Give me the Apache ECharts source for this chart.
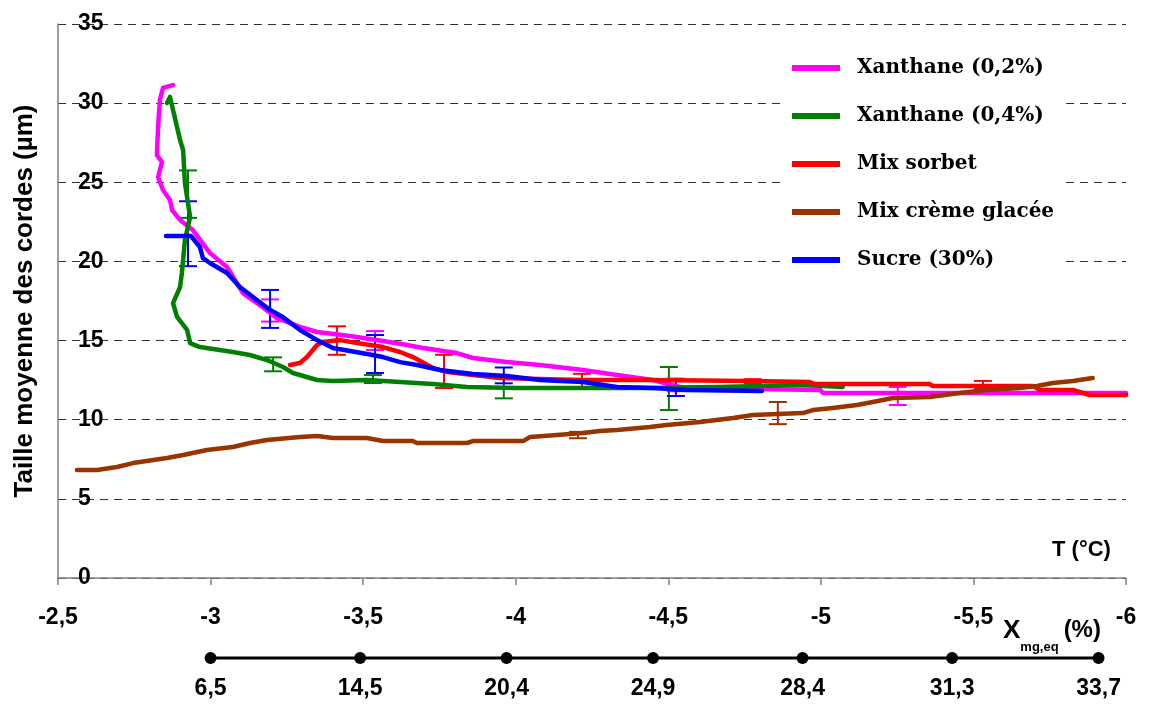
<!DOCTYPE html>
<html><head><meta charset="utf-8">
<script src="https://cdn.jsdelivr.net/npm/echarts@6/dist/echarts.min.js"></script>
<style>html,body{margin:0;padding:0;background:#fff}#c{width:1150px;height:706px}</style>
</head><body><div id="c"></div>
<script>
// ---- data ----
const seriesNames = ['Xanthane (0,2%)', 'Xanthane (0,4%)', 'Mix sorbet', 'Mix crème glacée', 'Sucre (30%)'];
const xTickLabels = ['-2,5','-3','-3,5','-4','-4,5','-5','-5,5','-6'];
const yTickLabels = ['0','5','10','15','20','25','30','35'];

const xanthane02 = [[-2.877,31.14],[-2.844,30.96],[-2.834,30.20],[-2.828,28.49],[-2.824,26.72],[-2.841,26.28],[-2.828,25.33],[-2.844,24.51],[-2.867,23.88],[-2.874,23.25],[-2.900,22.62],[-2.942,21.98],[-2.998,20.53],[-3.054,19.65],[-3.106,18.00],[-3.152,17.37],[-3.218,16.42],[-3.293,15.86],[-3.349,15.54],[-3.457,15.29],[-3.565,14.97],[-3.644,14.72],[-3.696,14.53],[-3.807,14.21],[-3.860,13.90],[-3.971,13.64],[-4.079,13.46],[-4.220,13.14],[-4.332,12.82],[-4.450,12.51],[-4.538,12.07],[-4.777,11.94],[-4.997,11.88],[-5.007,11.69],[-6.0,11.69]];
const xanthane04 = [[-2.857,30.01],[-2.867,30.39],[-2.877,29.56],[-2.900,27.67],[-2.910,27.04],[-2.916,24.95],[-2.933,22.80],[-2.916,21.35],[-2.906,19.27],[-2.900,18.38],[-2.877,17.37],[-2.890,16.49],[-2.923,15.67],[-2.933,14.84],[-2.965,14.59],[-3.073,14.28],[-3.129,14.09],[-3.185,13.77],[-3.237,13.33],[-3.270,12.95],[-3.349,12.51],[-3.401,12.44],[-3.512,12.51],[-3.621,12.38],[-3.729,12.25],[-3.840,12.07],[-4.004,12.00],[-4.440,12.00],[-4.659,12.07],[-4.941,12.19],[-5.072,12.07]];
const mixSorbet = [[-3.260,13.46],[-3.293,13.58],[-3.316,13.96],[-3.349,14.72],[-3.368,14.91],[-3.424,15.03],[-3.480,14.85],[-3.565,14.59],[-3.621,14.28],[-3.663,13.96],[-3.729,13.27],[-3.775,13.01],[-3.860,12.82],[-3.948,12.63],[-4.079,12.57],[-4.220,12.51],[-4.440,12.51],[-4.767,12.44],[-4.964,12.38],[-4.980,12.25],[-5.357,12.25],[-5.367,12.13],[-5.695,12.13],[-5.718,11.88],[-5.826,11.88],[-5.881,11.56],[-6.0,11.56]];
const mixCreme = [[-2.562,6.82],[-2.628,6.82],[-2.693,7.01],[-2.746,7.26],[-2.857,7.58],[-2.910,7.77],[-2.988,8.09],[-3.073,8.28],[-3.129,8.53],[-3.185,8.72],[-3.293,8.91],[-3.349,8.97],[-3.401,8.84],[-3.512,8.84],[-3.565,8.65],[-3.663,8.65],[-3.676,8.53],[-3.840,8.53],[-3.860,8.65],[-4.024,8.65],[-4.047,8.91],[-4.135,9.03],[-4.220,9.16],[-4.276,9.29],[-4.332,9.35],[-4.440,9.54],[-4.495,9.67],[-4.604,9.85],[-4.712,10.11],[-4.777,10.30],[-4.941,10.42],[-4.974,10.61],[-5.039,10.74],[-5.118,10.93],[-5.170,11.12],[-5.236,11.37],[-5.357,11.43],[-5.455,11.69],[-5.544,11.88],[-5.652,12.00],[-5.708,12.13],[-5.760,12.32],[-5.826,12.44],[-5.891,12.63]];
const sucre30 = [[-2.854,21.60],[-2.936,21.60],[-2.965,20.91],[-2.975,20.21],[-2.998,19.90],[-3.054,19.27],[-3.096,18.38],[-3.139,17.75],[-3.195,16.93],[-3.237,16.49],[-3.293,15.67],[-3.349,15.03],[-3.401,14.53],[-3.457,14.34],[-3.513,14.15],[-3.565,13.96],[-3.621,13.64],[-3.677,13.46],[-3.752,13.14],[-3.860,12.89],[-3.971,12.76],[-4.079,12.51],[-4.220,12.38],[-4.332,12.07],[-4.450,12.00],[-4.561,11.88],[-4.807,11.81]];

// error bars: [T, centre, half-width]
const errXanthane02 = [[-3.195,16.9,0.7],[-3.539,15.0,0.6],[-4.525,12.2,0.4],[-5.252,11.5,0.57]];
const errXanthane04 = [[-2.926,24.25,1.5],[-3.205,13.5,0.44],[-3.532,12.57,0.25],[-3.961,12.0,0.65],[-4.502,11.97,1.36]];
const errSorbet = [[-3.414,15.0,0.9],[-3.765,13.05,1.05],[-4.217,12.45,0.45],[-4.777,12.44,0.12],[-5.531,12.2,0.25]];
const errCreme = [[-4.204,9.03,0.2],[-4.859,10.42,0.7]];
const errSucre = [[-2.926,21.75,2.05],[-3.195,17.0,1.2],[-3.539,14.15,1.2],[-3.961,12.8,0.5],[-4.525,11.97,0.47]];

// secondary scale: X_mg,eq (%) vs temperature
const xmgT = [-3.0,-3.49,-3.97,-4.45,-4.94,-5.43,-5.91];
const xmgLabels = ['6,5','14,5','20,4','24,9','28,4','31,3','33,7'];

// ---- chart ----
const colors = ['#FF00FF','#008000','#FF0000','#993300','#0000FF'];
const lineData = [xanthane02, xanthane04, mixSorbet, mixCreme, sucre30];
const errData = [errXanthane02, errXanthane04, errSorbet, errCreme, errSucre];
const drawOrder = [0,1,2,4,3];
const FONT = 'Liberation Sans, Arial, sans-serif';

function errRender(color){
  return function(params, api){
    const x = api.value(0), c = api.value(1), h = api.value(2);
    const t = api.coord([x, c + h]), b = api.coord([x, c - h]);
    const w = 9, st = {stroke: color, lineWidth: 2};
    return {type:'group', children:[
      {type:'line', shape:{x1:t[0],y1:t[1],x2:b[0],y2:b[1]}, style:st},
      {type:'line', shape:{x1:t[0]-w,y1:t[1],x2:t[0]+w,y2:t[1]}, style:st},
      {type:'line', shape:{x1:b[0]-w,y1:b[1],x2:b[0]+w,y2:b[1]}, style:st}
    ]};
  };
}

const series = [];
drawOrder.forEach(i => {
  series.push({
    name: seriesNames[i], type:'line', data: lineData[i], xAxisIndex:0, yAxisIndex:0,
    showSymbol:false, symbol:'none', color: colors[i],
    lineStyle:{color: colors[i], width:4.5, cap:'round', join:'round'},
    animation:false, z: 3
  });
  series.push({
    name: 'err' + i, type:'custom', data: errData[i], xAxisIndex:0, yAxisIndex:0,
    renderItem: errRender(colors[i]), animation:false, z: 3,
    encode:{x:0, y:[1]}
  });
});
series.push({
  name:'xmg', type:'line', xAxisIndex:1, yAxisIndex:1,
  data: xmgT.map(t => [t, 0.5]),
  symbol:'circle', symbolSize:12, color:'#000',
  lineStyle:{color:'#000', width:3},
  itemStyle:{color:'#000'},
  label:{show:true, position:'bottom', distance:13, formatter: p => xmgLabels[p.dataIndex],
    fontFamily:FONT, fontWeight:'bold', fontSize:23, color:'#000'},
  animation:false
});

const chart = echarts.init(document.getElementById('c'), null, {renderer:'canvas'});
chart.setOption({
  backgroundColor:'#fff',
  animation:false,
  title:[
    {text:'T (°C)', left:1047, top:534, textStyle:{fontFamily:FONT, fontWeight:'bold', fontSize:22, color:'#000'}},
    {text:'{x|X}{s|mg,eq} {p|(%)}', left:998, top:613,
      textStyle:{rich:{
        x:{fontFamily:FONT, fontWeight:'bold', fontSize:26, color:'#000', lineHeight:36, verticalAlign:'top'},
        s:{fontFamily:FONT, fontWeight:'bold', fontSize:13, color:'#000', lineHeight:36, verticalAlign:'bottom'},
        p:{fontFamily:FONT, fontWeight:'bold', fontSize:24, color:'#000', lineHeight:36, verticalAlign:'top'}
      }}}
  ],
  legend:{
    data: seriesNames, orient:'vertical', left:785, top:37,
    backgroundColor:'#fff', padding:[20,10,20,7], itemGap:26,
    icon:'rect', itemWidth:48, itemHeight:6, selectedMode:false,
    textStyle:{fontFamily:'DejaVu Serif, Liberation Serif, serif', fontWeight:'bold', fontSize:20, color:'#000', lineHeight:22, padding:[0,0,0,12]}
  },
  grid:[
    {left:58, right:24, top:24, bottom:128, containLabel:false},
    {left:58, right:24, top:652, height:12, containLabel:false}
  ],
  xAxis:[
    {type:'value', gridIndex:0, min:-6, max:-2.5, interval:0.5, inverse:true,
      axisLine:{show:true, onZero:false, lineStyle:{color:'#808080', width:1.5}},
      axisTick:{show:true, length:7, lineStyle:{color:'#808080', width:1.5}},
      axisLabel:{margin:28, fontFamily:FONT, fontWeight:'bold', fontSize:23, color:'#000',
        formatter: v => xTickLabels[Math.round((-2.5 - v)/0.5)]},
      splitLine:{show:false}},
    {type:'value', gridIndex:1, min:-6, max:-2.5, inverse:true, show:false}
  ],
  yAxis:[
    {type:'value', gridIndex:0, min:0, max:35, interval:5,
      name:'Taille moyenne des cordes (µm)', nameLocation:'middle', nameGap:20, nameRotate:90,
      nameTextStyle:{fontFamily:FONT, fontWeight:'bold', fontSize:26, color:'#000'},
      axisLine:{show:true, lineStyle:{color:'#808080', width:1.5}},
      axisTick:{show:false},
      axisLabel:{inside:true, margin:20, fontFamily:FONT, fontWeight:'bold', fontSize:23, color:'#000',
        formatter: v => yTickLabels[Math.round(v/5)]},
      splitLine:{show:true, lineStyle:{color:'#333', width:1, type:[8,6]}}},
    {type:'value', gridIndex:1, min:0, max:1, show:false}
  ],
  series: series
});
</script></body></html>
